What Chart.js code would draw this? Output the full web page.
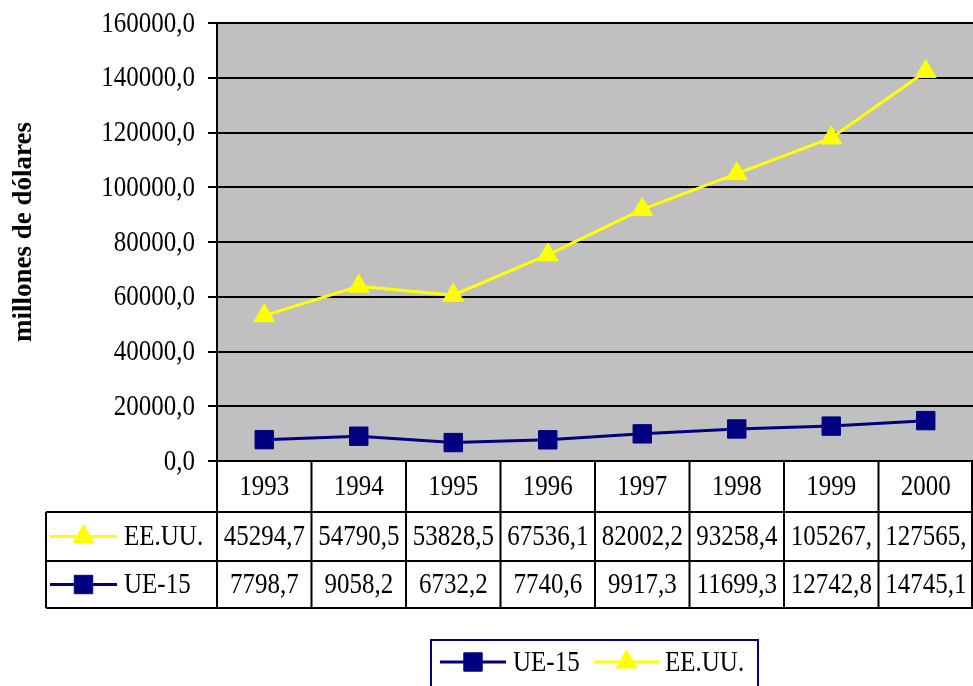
<!DOCTYPE html>
<html>
<head>
<meta charset="utf-8">
<script src="https://cdn.jsdelivr.net/npm/chart.js@4.4.1/dist/chart.umd.min.js"></script>
<style>
  html, body { margin: 0; padding: 0; background: #fff; }
  #wrap { width: 973px; height: 686px; }
</style>
</head>
<body>
<div id="wrap"><canvas id="grafico" width="973" height="686"></canvas></div>
<script>
// Datos (millones de dólares)
const anios = ['1993', '1994', '1995', '1996', '1997', '1998', '1999', '2000'];
const ue15 = [7798.7, 9058.2, 6732.2, 7740.6, 9917.3, 11699.3, 12742.8, 14745.1];
const eeuu = [45294.7, 54790.5, 53828.5, 67536.1, 82002.2, 93258.4, 105267.0, 127565.0];
const ticksY = [0, 20000, 40000, 60000, 80000, 100000, 120000, 140000, 160000];
const tituloY = 'millones de dólares';

const FUENTE = "'Liberation Serif', 'Times New Roman', serif";
const AZUL = '#000080';
const AMARILLO = '#FFFF00';
const ESTIRA = 1.17; // texto algo más alto que ancho

const fmt = v => v.toFixed(1).replace('.', ',');

function texto(ctx, t, x, y, align) {
    ctx.save();
    ctx.translate(x, y);
    ctx.scale(1, ESTIRA);
    ctx.textAlign = align || 'center';
    ctx.textBaseline = 'middle';
    ctx.fillText(t, 0, 0);
    ctx.restore();
}

// Fondo gris del área de trazado
const fondoPlugin = {
    id: 'fondo',
    beforeDraw(chart) {
        const { ctx, chartArea: a } = chart;
        ctx.save();
        ctx.fillStyle = '#C0C0C0';
        ctx.fillRect(a.left, a.top, a.right - a.left, a.bottom - a.top);
        ctx.restore();
    }
};

function marcador(ctx, ds, x, y) {
    ctx.save();
    ctx.fillStyle = ds.pointBackgroundColor;
    ctx.strokeStyle = ds.pointBorderColor;
    ctx.lineWidth = ds.pointBorderWidth;
    Chart.helpers.drawPoint(ctx, {
        pointStyle: ds.pointStyle, radius: ds.pointRadius, rotation: 0, borderWidth: ds.pointBorderWidth
    }, x, y);
    ctx.restore();
}

function claveLinea(ctx, ds, x1, x2, y) {
    ctx.save();
    ctx.strokeStyle = ds.borderColor;
    ctx.lineWidth = ds.borderWidth;
    ctx.beginPath();
    ctx.moveTo(x1, y);
    ctx.lineTo(x2, y);
    ctx.stroke();
    ctx.restore();
    marcador(ctx, ds, (x1 + x2) / 2, y);
}

// Etiquetas del eje Y y su título
const ejePlugin = {
    id: 'eje',
    afterDraw(chart) {
        const { ctx } = chart;
        const y = chart.scales.y;
        ctx.save();
        ctx.fillStyle = '#000';
        ctx.font = '25px ' + FUENTE;
        ticksY.forEach(v => texto(ctx, fmt(v), 195, y.getPixelForValue(v) + 1, 'right'));
        ctx.translate(24, 232);
        ctx.rotate(-Math.PI / 2);
        ctx.font = 'bold 27px ' + FUENTE;
        ctx.textAlign = 'center';
        ctx.textBaseline = 'middle';
        ctx.fillText(tituloY, 0, 0);
        ctx.restore();
    }
};

// Tabla de datos bajo el eje y leyenda
const tablaPlugin = {
    id: 'tabla',
    afterDraw(chart) {
        const { ctx, chartArea: a } = chart;
        const x = chart.scales.x;
        const paso = x.getPixelForValue(1) - x.getPixelForValue(0);
        const izq = 46;
        const y0 = a.bottom, y1 = 512, y2 = 561, y3 = 608;
        const dsUE = chart.data.datasets[0];
        const dsEU = chart.data.datasets[1];

        ctx.save();
        ctx.strokeStyle = '#000';
        ctx.lineWidth = 2;
        ctx.beginPath();
        // horizontales
        [y1, y2, y3].forEach(y => { ctx.moveTo(izq, y); ctx.lineTo(a.right, y); });
        // verticales
        ctx.moveTo(izq, y1); ctx.lineTo(izq, y3);
        for (let i = 0; i <= anios.length; i++) {
            const cx = Math.min(a.left + i * paso, a.right - 1);
            ctx.moveTo(cx, y0); ctx.lineTo(cx, y3);
        }
        ctx.stroke();

        ctx.fillStyle = '#000';
        ctx.font = '25px ' + FUENTE;
        const filas = [[eeuu, (y1 + y2) / 2 + 1], [ue15, (y2 + y3) / 2 + 1]];
        anios.forEach((anio, i) => {
            const cx = x.getPixelForValue(i);
            texto(ctx, anio, cx, (y0 + y1) / 2 + 1);
            filas.forEach(([serie, cy]) => {
                let t = fmt(serie[i]);
                while (ctx.measureText(t).width > paso - 4) t = t.slice(0, -1);
                texto(ctx, t, cx, cy);
            });
        });

        // claves de la tabla
        claveLinea(ctx, dsEU, 50, 117, (y1 + y2) / 2);
        texto(ctx, dsEU.label, 124, (y1 + y2) / 2 + 1, 'left');
        claveLinea(ctx, dsUE, 50, 117, (y2 + y3) / 2);
        texto(ctx, dsUE.label, 124, (y2 + y3) / 2 + 1, 'left');

        // leyenda
        ctx.strokeStyle = AZUL;
        ctx.lineWidth = 2;
        ctx.strokeRect(431, 640, 327, 60);
        const ly = 662;
        claveLinea(ctx, dsUE, 440, 506, ly);
        texto(ctx, dsUE.label, 513, ly + 1, 'left');
        claveLinea(ctx, dsEU, 594, 659, ly);
        texto(ctx, dsEU.label, 665, ly + 1, 'left');
        ctx.restore();
    }
};

const ctx = document.getElementById('grafico').getContext('2d');
new Chart(ctx, {
    type: 'line',
    data: {
        labels: anios,
        datasets: [{
            label: 'UE-15',
            data: ue15,
            borderColor: AZUL,
            borderWidth: 3,
            pointStyle: 'rect',
            pointRadius: 13,
            pointBackgroundColor: AZUL,
            pointBorderColor: AZUL,
            pointBorderWidth: 1,
            tension: 0
        }, {
            label: 'EE.UU.',
            data: eeuu,
            borderColor: AMARILLO,
            borderWidth: 3,
            pointStyle: 'triangle',
            pointRadius: 12,
            pointBackgroundColor: AMARILLO,
            pointBorderColor: AMARILLO,
            pointBorderWidth: 1,
            tension: 0
        }]
    },
    options: {
        responsive: false,
        animation: false,
        devicePixelRatio: 1,
        layout: { autoPadding: false, padding: { top: 23, bottom: 225, left: 0, right: 0 } },
        plugins: {
            legend: { display: false },
            tooltip: { enabled: false }
        },
        scales: {
            x: { display: false, offset: true },
            y: {
                stacked: true,
                min: 0,
                max: 160000,
                afterBuildTicks: s => { s.ticks = ticksY.map(v => ({ value: v })); },
                afterFit: s => { s.width = 217; },
                ticks: { display: false },
                grid: { color: '#000', lineWidth: 2, tickLength: 9 },
                border: { color: '#000', width: 2 }
            }
        }
    },
    plugins: [fondoPlugin, ejePlugin, tablaPlugin]
});
</script>
</body>
</html>
